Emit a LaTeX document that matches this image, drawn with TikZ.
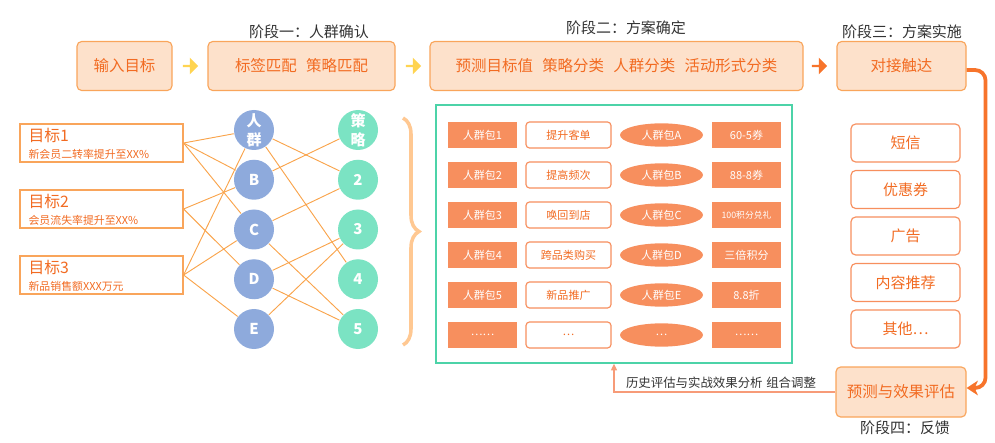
\documentclass[tikz,border=0pt]{standalone}
\usepackage{fontspec}
\setmainfont{Noto Sans CJK SC}
\usetikzlibrary{arrows.meta, shapes.geometric, shapes.arrows, decorations.pathreplacing}
\definecolor{cpeach}{HTML}{FDE1CB}
\definecolor{cedge}{HTML}{F9A55B}
\definecolor{cred}{HTML}{F26B22}
\definecolor{cyellow}{HTML}{FFD451}
\definecolor{corange}{HTML}{F7742B}
\definecolor{cblue}{HTML}{8EAADC}
\definecolor{cgreen}{HTML}{7BE3C3}
\definecolor{cline}{HTML}{F9A44C}
\definecolor{cbrace}{HTML}{FFC892}
\definecolor{cteal}{HTML}{4CD3A8}
\definecolor{cfill}{HTML}{F78F5E}
\definecolor{cback}{HTML}{F79B78}
\definecolor{cgrey}{HTML}{333333}
\tikzset{
  every picture/.style={font=\fontsize{11}{13}\selectfont, line width=1pt},
  stage/.style={draw=cedge, fill=cpeach, rounded corners=4pt, text=cred, minimum height=14.7mm, inner sep=0pt, font=\fontsize{13.2}{15}\selectfont},
  phase/.style={text=cgrey, inner sep=0pt, font=\fontsize{12.8}{15}\selectfont},
  blockarrow/.style={single arrow, fill=#1, minimum width=5mm, minimum height=4.6mm, single arrow head extend=1.2mm, inner sep=0pt},
  blockarrow/.default=cyellow,
  link/.style={draw=cline, line width=0.8pt},
  channel/.style={draw=cfill, fill=white, rounded corners=4pt, text=cred, minimum width=32.7mm, minimum height=11.4mm, inner sep=0pt, font=\fontsize{12.8}{15}\selectfont},
}
\begin{document}
\begin{tikzpicture}[x=0.3mm, y=-0.3mm,
  goal/.style={draw=cedge, fill=white, minimum width=48.9mm, minimum height=11.4mm, inner sep=0pt},
  crowd/.style={circle, fill=cblue, text=white, minimum size=12mm, inner sep=0pt, align=center, font=\fontsize{12.8}{16.5}\bfseries\selectfont},
  tactic/.style={crowd, fill=cgreen},
  pack/.style={fill=cfill, text=white, minimum width=20.7mm, minimum height=7.8mm, inner sep=0pt, font=\fontsize{9.4}{11}\selectfont},
  aim/.style={draw=cfill, fill=white, rounded corners=3pt, text=cred, minimum width=25.5mm, minimum height=7.8mm, inner sep=0pt, font=\fontsize{9.4}{11}\selectfont},
  oval/.style={ellipse, fill=cfill, text=white, minimum width=24.9mm, minimum height=7mm, inner sep=0pt, font=\fontsize{9.4}{11}\selectfont}]
  \useasboundingbox (0,0) rectangle (995,443);
  \node[phase] (p1) at (309,32) {阶段一：人群确认};
  \node[phase] (p2) at (626,28) {阶段二：方案确定};
  \node[phase] (p3) at (902,32) {阶段三：方案实施};
  \node[phase] (p4) at (905,428) {阶段四：反馈};
  \node[stage, minimum width=28.5mm] (input) at (124.5,66) {输入目标};
  \node[stage, minimum width=56.1mm] (match) at (301.5,66) {标签匹配\hspace{0.6em}策略匹配};
  \node[stage, minimum width=111.9mm] (plan) at (616.5,66) {预测目标值\hspace{0.6em}策略分类\hspace{0.6em}人群分类\hspace{0.6em}活动形式分类};
  \node[stage, minimum width=38.7mm] (reach) at (901.5,66) {对接触达};
  \node[stage, minimum width=39mm, minimum height=15mm] (eval) at (901,392) {预测与效果评估};
  \node[blockarrow] (a1) at (190,66) {};
  \node[blockarrow] (a2) at (413,66) {};
  \node[blockarrow=corange] (a3) at (819,66) {};
  \foreach \s [count=\k] in {新会员二转率提升至XX\%, 会员流失率提升至XX\%, 新品销售额XXX万元} {
    \node[goal] (g\k) at (101.5,143+66*\k-66) {};
    \node[anchor=west, inner sep=0pt, text=cred, font=\fontsize{13.5}{15}\selectfont] (gt\k) at (28,135+66*\k-66) {目标\k};
    \node[anchor=west, inner sep=0pt, text=cred, font=\fontsize{9.3}{11}\selectfont] (gs\k) at (28,154+66*\k-66) {\s};
  }
  \foreach \a/\b [count=\k] in {{人\\群}/{策\\略}, B/2, C/3, D/4, E/5} {
    \node[crowd] (c\k) at (254,130+49.75*\k-49.75) {\a};
    \node[tactic] (s\k) at (358,130+49.75*\k-49.75) {\b};
  }
  \foreach \a/\b in {1/1, 1/2, 1/3, 2/2, 2/4, 3/1, 3/3, 3/5} \draw[link] (g\a.east) -- (c\b);
  \foreach \a/\b in {1/2, 1/4, 2/1, 3/2, 3/5, 4/3, 4/5, 5/3} \draw[link] (c\a) -- (s\b);
  \draw[cbrace, line width=3pt, decorate, decoration={brace, amplitude=4.8mm}] (403,118) -- (403,345);
  \node[draw=cteal, line width=1.2pt, minimum width=106.8mm, minimum height=77.4mm, inner sep=0pt] (pool) at (614,234) {};
  \foreach \p/\q/\r/\s [count=\k] in {人群包1/提升客单/人群包A/60-5券, 人群包2/提高频次/人群包B/88-8券, 人群包3/唤回到店/人群包C/{\fontsize{7.5}{9}\selectfont 100积分兑礼}, 人群包4/跨品类购买/人群包D/三倍积分, 人群包5/新品推广/人群包E/8.8折, \ldots\ldots/\ldots/\ldots/\ldots\ldots} {
    \node[pack] (k\k) at (482.5,135+40*\k-40) {\p};
    \node[aim] (t\k) at (568.5,135+40*\k-40) {\q};
    \node[oval] (o\k) at (661.5,135+40*\k-40) {\r};
    \node[pack] (f\k) at (746.5,135+40*\k-40) {\s};
  }
  \foreach \t [count=\k] in {短信, 优惠券, 广告, 内容推荐, 其他\ldots}
    \node[channel] (m\k) at (905.5,143+46.5*\k-46.5) {\t};
  \draw[corange, line width=3.2pt, rounded corners=9pt, -{Stealth[length=3.4mm, width=4.4mm, inset=1mm]}] ([yshift=-1.2mm]reach.east) -- ++(19,0) |- ([yshift=1.2mm]eval.east);
  \draw[cback, line width=1pt, -{Triangle[length=2mm, width=1.8mm]}] (eval.west) -| (pool.south);
  \node[text=cgrey, inner sep=0pt, font=\fontsize{10.6}{13}\selectfont] (hist) at (721,383) {历史评估与实战效果分析\hspace{0.3em}组合调整};
\end{tikzpicture}
\end{document}
